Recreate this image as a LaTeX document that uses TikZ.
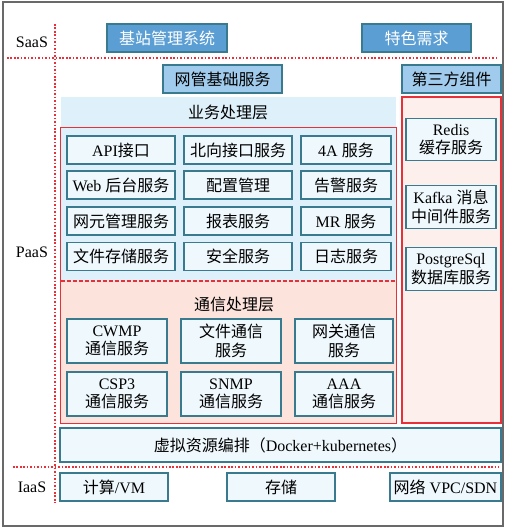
\documentclass[tikz,border=0pt]{standalone}
\usepackage{fontspec}
\setmainfont{Liberation Serif}
\newfontfamily\cjkfont{Noto Sans CJK SC}
% Chinese characters are set in the CJK family, the rest in the serif
\XeTeXinterchartokenstate=1
\newXeTeXintercharclass\cjkclass
\newcount\cjkcode
\cjkcode="4E00
\loop
  \XeTeXcharclass\cjkcode=\cjkclass
  \advance\cjkcode by 1
\ifnum\cjkcode<"A000 \repeat
\XeTeXcharclass"FF08=\cjkclass
\XeTeXcharclass"FF09=\cjkclass
\XeTeXinterchartoks 0 \cjkclass = {\cjkfont}
\XeTeXinterchartoks 4095 \cjkclass = {\cjkfont}
\XeTeXinterchartoks \cjkclass 0 = {\rmfamily}
\XeTeXinterchartoks \cjkclass 4095 = {\rmfamily}
\usepackage{tikz}
\definecolor{hdblue}{RGB}{91,158,212}
\definecolor{midblue}{RGB}{160,203,236}
\definecolor{bandblue}{RGB}{222,240,250}
\definecolor{cellfill}{RGB}{239,248,253}
\definecolor{cellline}{RGB}{58,122,142}
\definecolor{lyrred}{RGB}{232,48,56}
\definecolor{commpink}{RGB}{252,227,219}
\definecolor{thirdpink}{RGB}{253,240,236}
\definecolor{framegray}{RGB}{105,105,105}

\begin{document}
\begin{tikzpicture}[
  x=0.75pt, y=-0.75pt,
  font=\large,
  cell/.style={draw=cellline, fill=cellfill, rectangle, line width=0.9pt, inner sep=0pt,
    minimum height=21pt, align=center},
  headbox/.style={cell, fill=hdblue, text=white},
  subhead/.style={cell, fill=midblue},
  region/.style={rectangle, inner sep=0pt, draw=none},
  sep/.style={lyrred, line width=0.8pt, dash pattern=on 1.2pt off 1.4pt},
  tag/.style={font=\large},
]
\useasboundingbox (0,0) rectangle (508,531);

% ============ outer frame ============
\node[region, draw=framegray, line width=1.1pt, minimum width=375pt, minimum height=393pt] (frame) at (253,264) {};

% ============ layer separators ============
\coordinate (vtop) at (55,24);
\coordinate (vbot) at (55,503);
\coordinate (saasL) at (7,58);
\coordinate (saasR) at (499,58);
\coordinate (iaasL) at (13,467);
\coordinate (iaasR) at (499,467);
\draw[sep] (vtop) -- (vbot);
\draw[sep] (saasL) -- (saasR);
\draw[sep] (iaasL) -- (iaasR);

\node[tag] (saas) at (32,42) {SaaS};
\node[tag] (paas) at (32,252) {PaaS};
\node[tag] (iaas) at (32,487) {IaaS};

% ============ SaaS ============
\node[headbox, minimum width=90pt] (bsms) at (167,38) {基站管理系统};
\node[headbox, minimum width=81.75pt] (special) at (416.5,38) {特色需求};

% ============ PaaS headers ============
\node[subhead, minimum width=89.25pt] (nmbase) at (222.5,79) {网管基础服务};
\node[subhead, minimum width=74.25pt] (third) at (451.5,79) {第三方组件};

% ============ business layer ============
\node[region, fill=bandblue, minimum width=251.25pt, minimum height=23.25pt] (busband) at (228.5,112.5) {};
\node (buslabel) at (228,112) {业务处理层};
\node[region, fill=bandblue, minimum width=251.25pt, minimum height=114.75pt] (busarea) at (228.5,204.5) {};
\node[region, fill=commpink, minimum width=251.25pt, minimum height=106.5pt] (commarea) at (228.5,352) {};
\draw[lyrred, line width=0.9pt] (busarea.north west) rectangle (commarea.south east);
\draw[lyrred, line width=1.3pt, dash pattern=on 3pt off 1.5pt] (commarea.north west) -- (commarea.north east);

\node[cell, minimum width=81pt] (api) at (121,150) {API接口};
\node[cell, minimum width=81pt] (nbi) at (238,150) {北向接口服务};
\node[cell, minimum width=67.5pt] (aaaa) at (346,150) {4A 服务};
\node[cell, minimum width=81pt] (web) at (121,185) {Web 后台服务};
\node[cell, minimum width=81pt] (cfg) at (238,185) {配置管理};
\node[cell, minimum width=67.5pt] (alarm) at (346,185) {告警服务};
\node[cell, minimum width=81pt] (ne) at (121,221) {网元管理服务};
\node[cell, minimum width=81pt] (report) at (238,221) {报表服务};
\node[cell, minimum width=67.5pt] (mr) at (346,221) {MR 服务};
\node[cell, minimum width=81pt] (file) at (121,256.5) {文件存储服务};
\node[cell, minimum width=81pt] (sec) at (238,256.5) {安全服务};
\node[cell, minimum width=67.5pt] (log) at (346,256.5) {日志服务};

% ============ communication layer ============
\node (commlabel) at (234,304) {通信处理层};
\node[cell, minimum width=75pt, minimum height=33pt] (cwmp) at (117,341) {CWMP\\通信服务};
\node[cell, minimum width=75pt, minimum height=33pt] (filecomm) at (231,341) {文件通信\\服务};
\node[cell, minimum width=73.5pt, minimum height=33pt] (gw) at (344,341) {网关通信\\服务};
\node[cell, minimum width=75pt, minimum height=33pt] (csp) at (117,394) {CSP3\\通信服务};
\node[cell, minimum width=75pt, minimum height=33pt] (snmp) at (231,394) {SNMP\\通信服务};
\node[cell, minimum width=73.5pt, minimum height=33pt] (aaa) at (344,394) {AAA\\通信服务};

% ============ third-party components ============
\node[region, draw=lyrred, line width=0.9pt, fill=thirdpink, minimum width=74.25pt, minimum height=244.5pt] (thirdarea) at (451.5,260) {};
\node[cell, minimum width=67.5pt, minimum height=32pt] (redis) at (451,139.5) {Redis\\缓存服务};
\node[cell, minimum width=67.5pt, minimum height=32pt] (kafka) at (451,207) {Kafka 消息\\中间件服务};
\node[cell, minimum width=67.5pt, minimum height=32pt] (pgsql) at (451,269) {PostgreSql\\数据库服务};

% ============ orchestration ============
\node[cell, minimum width=330.75pt, minimum height=25.5pt] (orch) at (280.5,445) {虚拟资源编排（Docker+kubernetes）};

% ============ IaaS ============
\node[cell, minimum width=81pt] (vm) at (114,487) {计算/VM};
\node[cell, minimum width=81pt] (store) at (281,487) {存储};
\node[cell, minimum width=83.25pt] (net) at (445.5,487) {网络 VPC/SDN};

\end{tikzpicture}
\end{document}
